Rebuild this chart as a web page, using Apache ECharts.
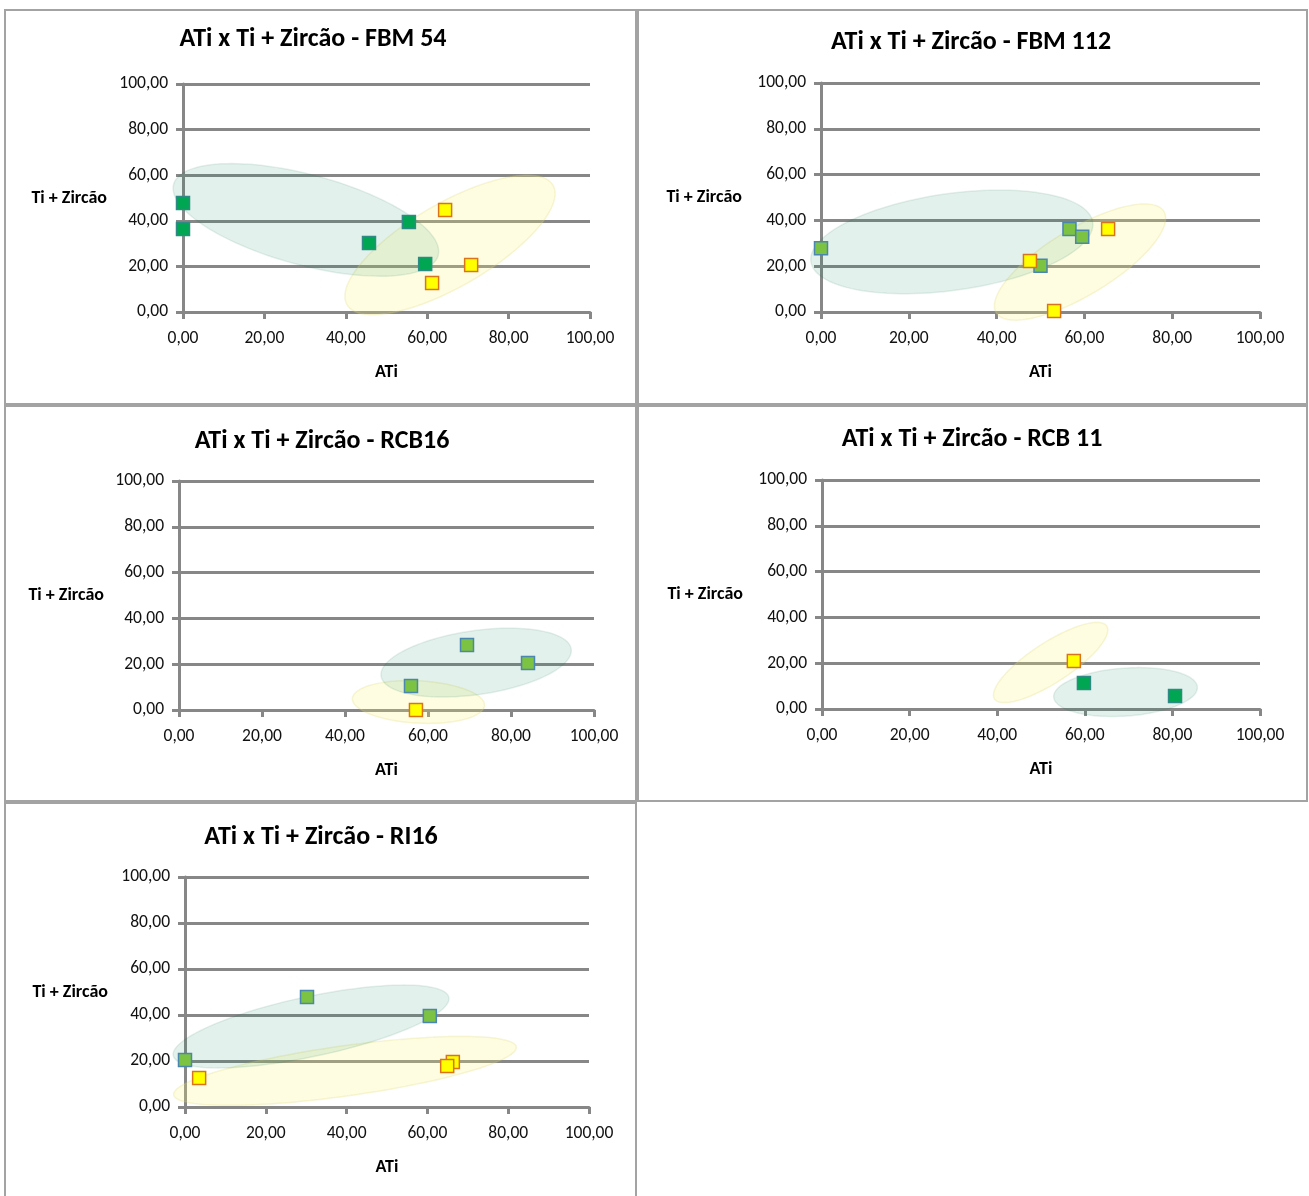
<!DOCTYPE html>
<html>
<head>
<meta charset="utf-8">
<script src="https://cdn.jsdelivr.net/npm/echarts@6/dist/echarts.min.js"></script>
<style>
  html, body { margin: 0; padding: 0; background: #ffffff; }
  body { width: 1309px; height: 1196px; position: relative; overflow: hidden; }
  .frame { position: absolute; box-sizing: border-box; border: 2px solid #a3a3a3; pointer-events: none; }
  .chart { position: absolute; }
</style>
</head>
<body>
<script>
// ---- Dados: ATi (eixo x) e Ti + Zircão (eixo y) por amostra ----
const tickValues = [0, 20, 40, 60, 80, 100];

const titulos = [
  'ATi x Ti + Zircão - FBM 54',
  'ATi x Ti + Zircão - FBM 112',
  'ATi x Ti + Zircão - RCB16',
  'ATi x Ti + Zircão - RCB 11',
  'ATi x Ti + Zircão - RI16'
];
const nomeEixoX = 'ATi';
const nomeEixoY = 'Ti + Zircão';

// FBM 54
const fbm54Verde = [[0, 47.8], [0, 36.4], [45.7, 30.3], [55.5, 39.5], [59.5, 21.1]];
const fbm54Amarelo = [[64.4, 44.7], [70.8, 20.6], [61.2, 12.7]];
// FBM 112
const fbm112Verde = [[0, 27.8], [56.6, 36.2], [59.5, 32.9], [50.0, 20.2]];
const fbm112Amarelo = [[47.6, 22.3], [65.4, 36.2], [53.1, 0.4]];
// RCB16
const rcb16Verde = [[55.9, 10.5], [69.4, 28.4], [84.1, 20.5]];
const rcb16Amarelo = [[57.1, 0]];
// RCB 11
const rcb11Verde = [[59.8, 11.4], [80.6, 5.7]];
const rcb11Amarelo = [[57.5, 21.0]];
// RI16
const ri16Verde = [[0, 20.4], [30.2, 47.8], [60.6, 39.6]];
const ri16Amarelo = [[3.5, 12.6], [66.3, 19.6], [64.9, 17.8]];

// Elipses de agrupamento, em unidades dos eixos:
// [centro ATi, centro Ti+Zircão, semieixo maior dATi, semieixo maior dTi+Zircão, razão menor/maior]
const fbm54ElipseVerde = [30.2, 40.4, 32.5, -15.6, 0.33];
const fbm54ElipseAmarela = [65.6, 29.4, 25.3, 26.2, 0.35];
const fbm112ElipseVerde = [29.8, 30.6, 32.1, 8.6, 0.34];
const fbm112ElipseAmarela = [59.0, 21.8, 19.1, 22.1, 0.34];
const rcb16ElipseVerde = [71.6, 20.7, 22.9, 5.9, 0.333];
const rcb16ElipseAmarela = [57.7, 3.5, 15.9, -1.5, 0.32];
const rcb11ElipseVerde = [69.3, 7.4, 16.4, 2.2, 0.333];
const rcb11ElipseAmarela = [52.2, 20.3, 12.8, 15.9, 0.30];
const ri16ElipseVerde = [31.2, 35.0, 34.1, 12.7, 0.213];
const ri16ElipseAmarela = [39.6, 15.7, 42.4, 10.4, 0.145];

// ---- Estilos ----
const FONT = 'Carlito, Calibri, Lato, "Open Sans", sans-serif';
const AXIS_GRAY = '#878787';
const VERDE_ESCURO = { color: '#00a651', borderColor: '#2f8a86' };
const VERDE_CLARO = { color: '#7cc243', borderColor: '#4a86ad' };
const AMARELO = { color: '#ffff00', borderColor: '#d9731c' };

const paineis = [
  { titulo: titulos[0], verde: fbm54Verde, amarelo: fbm54Amarelo, elVerde: fbm54ElipseVerde, elAmarela: fbm54ElipseAmarela, corVerde: VERDE_ESCURO,
    frame: [4, 9, 633, 396], grid: [179, 75, 407, 228], titleX: 309, titleTop: 17, yGap: 76 },
  { titulo: titulos[1], verde: fbm112Verde, amarelo: fbm112Amarelo, elVerde: fbm112ElipseVerde, elAmarela: fbm112ElipseAmarela, corVerde: VERDE_CLARO,
    frame: [637, 9, 671, 396], grid: [184, 74, 439, 229], titleX: 334, titleTop: 20, yGap: 79 },
  { titulo: titulos[2], verde: rcb16Verde, amarelo: rcb16Amarelo, elVerde: rcb16ElipseVerde, elAmarela: rcb16ElipseAmarela, corVerde: VERDE_CLARO,
    frame: [4, 405, 633, 397], grid: [175, 76, 415, 229], titleX: 318, titleTop: 23, yGap: 75 },
  { titulo: titulos[3], verde: rcb11Verde, amarelo: rcb11Amarelo, elVerde: rcb11ElipseVerde, elAmarela: rcb11ElipseAmarela, corVerde: VERDE_ESCURO,
    frame: [637, 405, 671, 397], grid: [185, 75, 438, 229], titleX: 335, titleTop: 21, yGap: 79 },
  { titulo: titulos[4], verde: ri16Verde, amarelo: ri16Amarelo, elVerde: ri16ElipseVerde, elAmarela: ri16ElipseAmarela, corVerde: VERDE_CLARO,
    frame: [4, 802, 633, 400], grid: [181, 75, 404, 230], titleX: 317, titleTop: 22, yGap: 77 }
];

function formatoBR(v) {
  return v.toFixed(2).replace('.', ',');
}

// Elipse desenhada como polígono a partir do centro e do semieixo maior,
// convertidos para pixels pelas escalas dos eixos.
function serieElipse(el, fill, stroke) {
  return {
    type: 'custom',
    data: [el],
    encode: { x: 0, y: 1 },
    clip: false,
    silent: true,
    z: 1,
    renderItem: function (params, api) {
      const cx = api.value(0), cy = api.value(1);
      const c = api.coord([cx, cy]);
      const e = api.coord([cx + api.value(2), cy + api.value(3)]);
      const mx = e[0] - c[0], my = e[1] - c[1];
      const r = api.value(4);
      const nx = -my * r, ny = mx * r;
      const pts = [];
      const n = 120;
      for (let i = 0; i < n; i++) {
        const t = (i / n) * Math.PI * 2;
        pts.push([
          c[0] + Math.cos(t) * mx + Math.sin(t) * nx,
          c[1] + Math.cos(t) * my + Math.sin(t) * ny
        ]);
      }
      return {
        type: 'polygon',
        shape: { points: pts },
        style: { fill: fill, stroke: stroke, lineWidth: 1.5 }
      };
    }
  };
}

function seriePontos(dados, cor) {
  return {
    type: 'scatter',
    data: dados,
    symbol: 'rect',
    symbolSize: 13,
    clip: false,
    z: 3,
    itemStyle: { color: cor.color, borderColor: cor.borderColor, borderWidth: 1.5, opacity: 1 }
  };
}

function opcao(p) {
  const axisLine = { show: true, onZero: false, lineStyle: { color: AXIS_GRAY, width: 3 } };
  const axisTick = { show: true, inside: false, length: 7, lineStyle: { color: AXIS_GRAY, width: 3 } };
  const nameStyle = { fontFamily: FONT, fontSize: 18, fontWeight: 'bold', color: '#000' };
  const labelStyle = { fontFamily: FONT, fontSize: 17.5, color: '#111' };
  return {
    animation: false,
    backgroundColor: 'transparent',
    title: {
      text: p.titulo,
      left: p.titleX,
      top: p.titleTop,
      textAlign: 'center',
      padding: 0,
      textStyle: { fontFamily: FONT, fontSize: 26, fontWeight: 'bold', color: '#000' }
    },
    grid: { left: p.grid[0], top: p.grid[1], width: p.grid[2], height: p.grid[3] },
    xAxis: {
      type: 'value',
      min: tickValues[0],
      max: tickValues[tickValues.length - 1],
      interval: tickValues[1] - tickValues[0],
      name: nomeEixoX,
      nameLocation: 'middle',
      nameGap: 51,
      nameTextStyle: nameStyle,
      axisLine: axisLine,
      axisTick: axisTick,
      axisLabel: Object.assign({ margin: 18, formatter: formatoBR }, labelStyle),
      splitLine: { show: false }
    },
    yAxis: {
      type: 'value',
      min: tickValues[0],
      max: tickValues[tickValues.length - 1],
      interval: tickValues[1] - tickValues[0],
      name: nomeEixoY,
      nameLocation: 'middle',
      nameRotate: 0,
      nameGap: p.yGap,
      nameTextStyle: nameStyle,
      axisLine: axisLine,
      axisTick: axisTick,
      axisLabel: Object.assign({ margin: 15, formatter: formatoBR }, labelStyle),
      splitLine: { show: true, lineStyle: { color: AXIS_GRAY, width: 3 } }
    },
    series: [
      serieElipse(p.elAmarela, 'rgba(255,248,120,0.22)', 'rgba(220,215,110,0.25)'),
      serieElipse(p.elVerde, 'rgba(0,130,80,0.11)', 'rgba(0,110,70,0.10)'),
      seriePontos(p.verde, p.corVerde),
      seriePontos(p.amarelo, AMARELO)
    ]
  };
}

paineis.forEach(function (p) {
  const div = document.createElement('div');
  div.className = 'chart';
  div.style.left = p.frame[0] + 'px';
  div.style.top = p.frame[1] + 'px';
  div.style.width = p.frame[2] + 'px';
  div.style.height = p.frame[3] + 'px';
  document.body.appendChild(div);

  const frame = document.createElement('div');
  frame.className = 'frame';
  frame.style.left = p.frame[0] + 'px';
  frame.style.top = p.frame[1] + 'px';
  frame.style.width = p.frame[2] + 'px';
  frame.style.height = p.frame[3] + 'px';
  document.body.appendChild(frame);

  const chart = echarts.init(div, null, { renderer: 'canvas' });
  chart.setOption(opcao(p));
});
</script>
</body>
</html>
